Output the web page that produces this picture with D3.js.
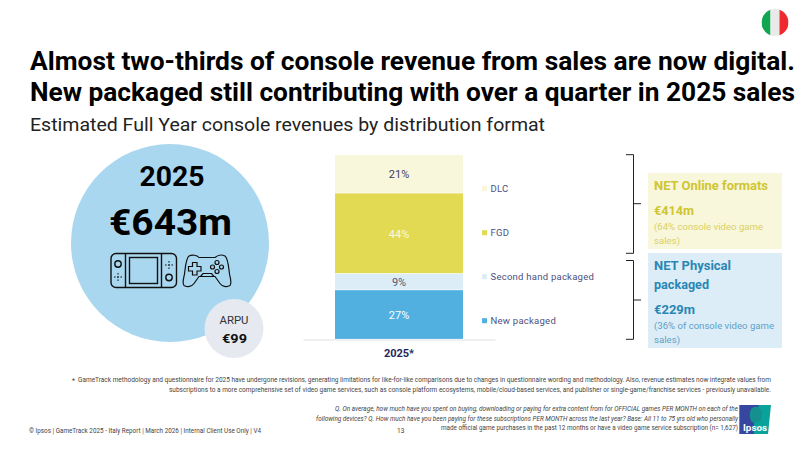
<!DOCTYPE html>
<html>
<head>
<meta charset="utf-8">
<script src="https://cdn.jsdelivr.net/npm/d3@7"></script>
<style>
html,body{margin:0;padding:0;background:#fff}
svg{display:block}
text{font-family:Roboto,sans-serif}
</style>
</head>
<body>
<svg id="slide" width="800" height="450"></svg>
<script>
// Revenue split by distribution format, stacked bottom to top
const formats = ["New packaged", "Second hand packaged", "FGD", "DLC"];
const shares = [27, 9, 44, 21];
const periods = ["2025*"];
const formatColors = ["#51b0df", "#dcedf7", "#e2da52", "#f8f6db"];
const shareLabelColors = ["#ffffff", "#55586f", "#fbf9e0", "#3e4066"];
const legendColor = "#4d5080";

const headline = [
  "Almost two-thirds of console revenue from sales are now digital.",
  "New packaged still contributing with over a quarter in 2025 sales"
];
const subtitle = "Estimated Full Year console revenues by distribution format";
const methodNote = [
  "GameTrack methodology and questionnaire for 2025 have undergone revisions, generating limitations for like-for-like comparisons due to changes in questionnaire wording and methodology. Also, revenue estimates now integrate values from",
  "subscriptions to a more comprehensive set of video game services, such as console platform ecosystems, mobile/cloud-based services, and publisher or single-game/franchise services - previously unavailable."
];
const questionNote = [
  "Q. On average, how much have you spent on buying, downloading or paying for extra content from for OFFICIAL games PER MONTH on each of the",
  "following devices? Q. How much have you been paying for these subscriptions PER MONTH across the last year? Base: All 11 to 75 yrs old who personally",
  "made official game purchases in the past 12 months or have a video game service subscription (n= 1,627)"
];
const footer = "© Ipsos | GameTrack 2025 - Italy Report | March 2026 | Internal Client Use Only | V4";

const svg = d3.select("#slide");

// Places one line of text and stretches it to a given run width
function line(sel, str, x, y, o = {}) {
  const t = sel.append("text").attr("x", x).attr("y", y).text(str)
    .attr("font-size", o.size || 10)
    .attr("font-weight", o.weight || 400)
    .attr("fill", o.fill || "#000")
    .attr("text-anchor", o.anchor || "start");
  if (o.italic) t.attr("font-style", "italic");
  if (o.fit) t.attr("textLength", o.fit).attr("lengthAdjust", "spacingAndGlyphs");
  return t;
}

// Headline block
const fits = [765, 765];
headline.forEach((h, i) => line(svg, h, 30, 70 + i * 31, { size: 26, weight: 700, fit: fits[i] }));
line(svg, subtitle, 30, 131, { size: 19, fill: "#222", fit: 515 });

// Italian flag badge
const flag = svg.append("g");
const clip = flag.append("clipPath").attr("id", "flagClip");
clip.append("circle").attr("cx", 775).attr("cy", 22.5).attr("r", 13.5);
["#10a651", "#e9e9e9", "#ef2a2f"].forEach((c, i) =>
  flag.append("rect").attr("x", 761.5 + i * 9).attr("y", 8).attr("width", 9).attr("height", 29)
    .attr("fill", c).attr("clip-path", "url(#flagClip)"));

// Total revenue bubble
svg.append("circle").attr("cx", 170).attr("cy", 243).attr("r", 99).attr("fill", "#a9d7ef");
line(svg, "2025", 172, 186, { size: 27, weight: 700, anchor: "middle", fit: 65 });
line(svg, "€643m", 170.5, 235, { size: 37, weight: 700, anchor: "middle", fit: 123 });

// Handheld console glyph
const handheld = svg.append("g").attr("fill", "none").attr("stroke", "#111").attr("stroke-width", 1.4);
handheld.append("rect").attr("x", 111).attr("y", 253.5).attr("width", 65.5).attr("height", 34).attr("rx", 5);
handheld.append("path").attr("d", "M125.5 253.5V287.5M161.5 253.5V287.5");
handheld.append("rect").attr("x", 129.5).attr("y", 257.5).attr("width", 28).attr("height", 26);
handheld.append("circle").attr("cx", 118).attr("cy", 264).attr("r", 3.2);
handheld.append("circle").attr("cx", 169).attr("cy", 277.5).attr("r", 3.2);
handheld.append("path").attr("stroke-width", 1).attr("stroke-dasharray", "1.6 1.6")
  .attr("d", "M118 273V281M114 277H122M169 261V269M165 265H173");

// Gamepad glyph
const pad = svg.append("g").attr("fill", "none").attr("stroke", "#111").attr("stroke-width", 1.2);
pad.append("path").attr("d",
  "M189 256C192 254.5 197 255 199 257.5H215C218 255 222 254.5 225 256C228 258 228.5 266 229.5 274C230.5 279 232 283 230 285.5C227 287.5 222 286.5 220 283.5L215 276.5H199L194 283.5C192 286.5 187 287.5 184 285.5C182 283 183.5 279 184.5 274C185.5 266 186 258 189 256Z");
pad.append("path").attr("d", "M192.5 262.5H197V266.5H201V271H197V275H192.5V271H188.5V266.5H192.5Z");
[[217, 262.5], [217, 271.5], [212.5, 267], [221.5, 267]].forEach(([x, y]) =>
  pad.append("circle").attr("cx", x).attr("cy", y).attr("r", 2));
pad.append("path").attr("d", "M200.5 276.5L203 273.5H211.5L214 276.5");

// ARPU bubble
svg.append("circle").attr("cx", 234).attr("cy", 328.5).attr("r", 29.5).attr("fill", "#e6e9ef");
line(svg, "ARPU", 234, 324, { size: 11, fill: "#333", anchor: "middle", fit: 29 });
line(svg, "€99", 234.5, 343, { size: 13.5, weight: 700, fill: "#111", anchor: "middle", fit: 25 });

// Stacked bar
const stack = d3.stack().keys(formats)([Object.fromEntries(formats.map((f, i) => [f, shares[i]]))]);
const x = d3.scaleBand().domain(periods).range([303, 495]).paddingInner(0).paddingOuter(0.25);
const y = d3.scaleLinear().domain([0, d3.sum(shares)]).range([339.5, 155]);
const color = d3.scaleOrdinal().domain(formats).range(formatColors);

const bars = svg.append("g").selectAll("g").data(stack).join("g");
bars.append("rect")
  .attr("x", x(periods[0]))
  .attr("width", x.bandwidth())
  .attr("y", d => y(d[0][1]))
  .attr("height", d => y(d[0][0]) - y(d[0][1]) - 0.6)
  .attr("fill", d => color(d.key));
bars.append("text")
  .attr("x", x(periods[0]) + x.bandwidth() / 2)
  .attr("y", d => (y(d[0][0]) + y(d[0][1])) / 2 + 4)
  .attr("text-anchor", "middle")
  .attr("font-size", 11)
  .attr("fill", (d, i) => shareLabelColors[i])
  .text(d => (d[0][1] - d[0][0]) + "%");

const axis = svg.append("g").attr("transform", "translate(0,339.5)")
  .call(d3.axisBottom(x).tickSize(0).tickPadding(10));
axis.select(".domain").attr("stroke", "#dfe1e6").attr("stroke-width", 1.2);
axis.selectAll("text").attr("font-size", 11).attr("font-weight", 700).attr("fill", "#23285c")
  .style("font-family", "Roboto,sans-serif");

// Legend, top entry first
const legendScale = d3.scalePoint().domain(formats).range([320.7, 188.7]);
const legend = svg.append("g").selectAll("g").data(formats).join("g")
  .attr("transform", d => `translate(482,${legendScale(d)})`);
legend.append("rect").attr("x", 0).attr("y", -2.5).attr("width", 5).attr("height", 5).attr("fill", d => color(d));
legend.append("text").attr("x", 8.5).attr("y", 3.5).attr("font-size", 9.5).attr("fill", legendColor)
  .attr("letter-spacing", 0.25).text(d => d);

// Brackets tying the bar to the net panels
const brackets = [[154.7, 253.3, 203.7], [260.5, 339.3, 300]];
svg.append("g").selectAll("path").data(brackets).join("path")
  .attr("fill", "none").attr("stroke", "#222").attr("stroke-width", 1)
  .attr("d", d => `M626 ${d[0]}H633.5V${d[1]}H626M633.5 ${d[2]}H641`);

// Net panels
svg.append("rect").attr("x", 648).attr("y", 173).attr("width", 134).attr("height", 76).attr("fill", "#f8f6db");
svg.append("rect").attr("x", 648).attr("y", 253).attr("width", 134).attr("height", 95).attr("fill", "#dcedf7");
const olive = "#cfc532", oliveSoft = "#d9d266", teal = "#2a86b4", tealSoft = "#5f9fc7";
line(svg, "NET Online formats", 654, 190, { size: 12.5, weight: 700, fill: olive, fit: 114 });
line(svg, "€414m", 654, 215, { size: 13.5, weight: 700, fill: olive, fit: 40 });
line(svg, "(64% console video game", 654, 230, { size: 9.5, fill: oliveSoft, fit: 109 });
line(svg, "sales)", 654, 244, { size: 9.5, fill: oliveSoft, fit: 26 });
line(svg, "NET Physical", 654, 270, { size: 12.5, weight: 700, fill: teal, fit: 77 });
line(svg, "packaged", 654, 289, { size: 12.5, weight: 700, fill: teal, fit: 55 });
line(svg, "€229m", 654, 314, { size: 13.5, weight: 700, fill: teal, fit: 41 });
line(svg, "(36% of console video game", 654, 329, { size: 9.5, fill: tealSoft, fit: 120 });
line(svg, "sales)", 654, 343, { size: 9.5, fill: tealSoft, fit: 26 });

// Footnotes
const noteInk = "#444";
line(svg, "*", 72, 383, { size: 7, fill: noteInk });
line(svg, methodNote[0], 771, 382, { size: 6.5, fill: noteInk, anchor: "end", fit: 693 });
line(svg, methodNote[1], 771, 392, { size: 6.5, fill: noteInk, anchor: "end", fit: 602 });
line(svg, questionNote[0], 738, 410.5, { size: 6.5, fill: noteInk, anchor: "end", italic: true, fit: 403 });
line(svg, questionNote[1], 738, 420.5, { size: 6.5, fill: noteInk, anchor: "end", italic: true, fit: 422 });
line(svg, questionNote[2], 738, 430, { size: 6.5, fill: noteInk, anchor: "end", fit: 297 });
line(svg, footer, 29, 433, { size: 6.5, fill: noteInk, fit: 232 });
line(svg, "13", 397, 433, { size: 6.5, fill: noteInk });

// Ipsos mark
const logo = svg.append("g");
logo.append("path").attr("d", "M739.5 405H771L768 434H739.5Z").attr("fill", "#0aa39b");
logo.append("path").attr("d", "M739.5 405H759C755 414 753 424 754 434H739.5Z").attr("fill", "#37479f");
logo.append("path").attr("d", "M752 408C756 405.5 761 407 762 412C762.5 414 761 415 761 416.5C761 418 762 418.5 761 420C759 422 757 421 755 423L752 422C749 419 749 411 752 408Z").attr("fill", "#14918f");
line(logo, "Ipsos", 755, 430.5, { size: 9.5, weight: 700, fill: "#fff", anchor: "middle", fit: 24 });
</script>
</body>
</html>
